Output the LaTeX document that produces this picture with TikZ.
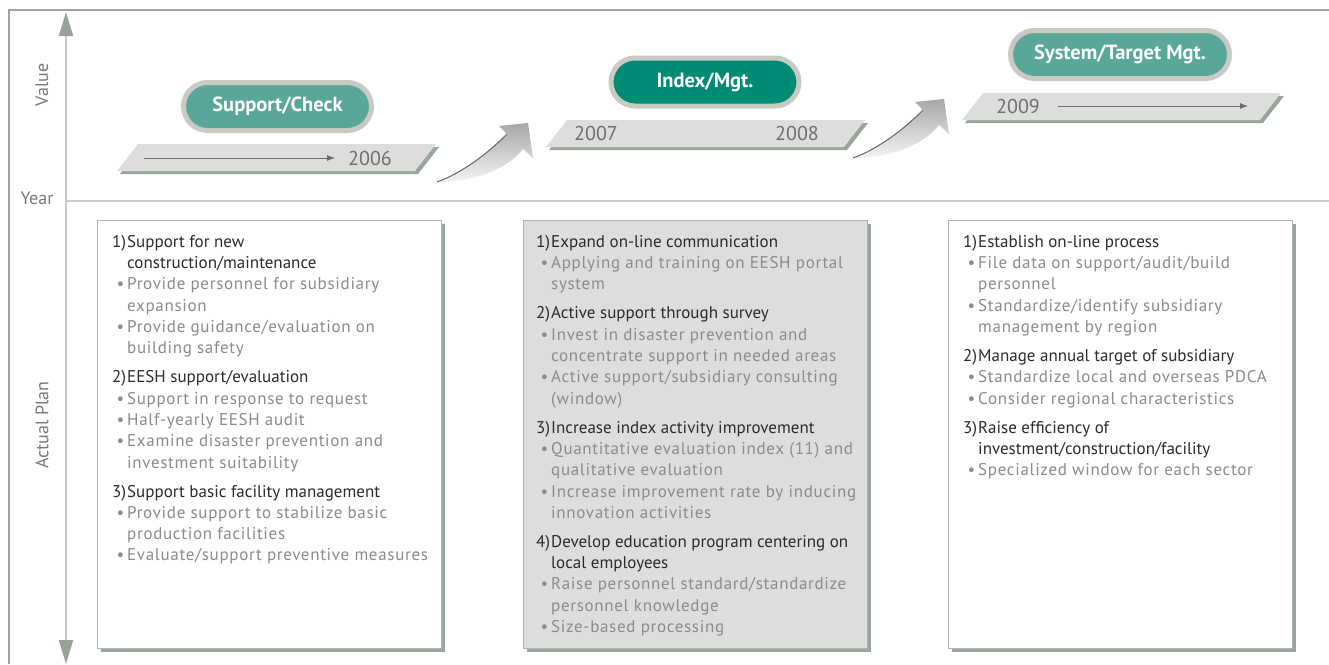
\documentclass[tikz,border=0pt]{standalone}
\usepackage{fontspec}
\setmainfont{PT Sans}
\newfontfamily\itemfont[LetterSpace=4]{PT Sans}
\usepackage{tikz}
\usetikzlibrary{arrows.meta,positioning,calc,shadows}
\definecolor{frameLine}{HTML}{9BA59C}
\definecolor{axisLine}{HTML}{C6CBC6}
\definecolor{axisTip}{HTML}{98A298}
\definecolor{labelGray}{HTML}{76787A}
\definecolor{pillRing}{HTML}{C9CAC4}
\definecolor{pillTeal}{HTML}{58A799}
\definecolor{pillDeep}{HTML}{008B74}
\definecolor{bandFill}{HTML}{DCDEDB}
\definecolor{bandShade}{HTML}{9AA59B}
\definecolor{yearText}{HTML}{6D6E71}
\definecolor{headText}{HTML}{2B2B2B}
\definecolor{itemText}{HTML}{898B8D}
\definecolor{boxLine}{HTML}{AEB4AF}

% plan list helpers: numbered heading, heading continuation, bullet, item continuation
\newcommand{\plhead}[2]{{\normalfont\color{headText}\makebox[15pt][l]{#1}#2}}
\newcommand{\plcont}[1]{{\normalfont\color{headText}\hspace*{15pt}#1}}
\newcommand{\plitem}{\makebox[15pt][r]{\textbullet\hspace{3pt}}}
\newcommand{\plnext}{\hspace*{15pt}}

% slanted year band with its shadow, given the top-left corner
\newcommand{\yearband}[2]{%
  \fill[bandShade] (#1+3,#2+3) -- ++(298,0) -- ++(-21,27) -- ++(-298,0) -- cycle;
  \fill[bandFill] (#1,#2) -- ++(298,0) -- ++(-21,27) -- ++(-298,0) -- cycle;
}

\tikzset{
  pill/.style={rounded corners=24pt, draw=pillRing, line width=5pt, fill=pillTeal,
    text=white, minimum height=48pt, minimum width=188pt, inner sep=0pt,
    font=\fontsize{20.5}{22}\selectfont\bfseries},
  yeartag/.style={text=yearText, inner sep=0pt, font=\fontsize{20}{22}\selectfont},
  sidelabel/.style={text=labelGray, inner sep=0pt, font=\fontsize{18}{20}\selectfont},
  yeararrow/.style={draw=yearText, line width=0.8pt, -{Latex[length=8pt,width=6pt]}},
  planbox/.style={draw=boxLine, line width=1.2pt, fill=white, anchor=north west,
    minimum width=344pt, minimum height=428pt,
    drop shadow={shadow xshift=3pt, shadow yshift=-3pt, fill=bandShade, opacity=1}},
  plantext/.style={anchor=north west, align=left, inner sep=0pt, text=itemText,
    font=\itemfont\fontsize{17}{21.3}\selectfont},
  rise/.pic={
    \shade[top color=gray!70, bottom color=gray!8]
      (0,0) .. controls (35,0) and (70,-12) .. (86,-33) -- (96,-24) -- (91,-59)
      -- (62,-56) -- (70,-48) .. controls (50,-28) and (25,-9) .. (0,0) -- cycle;
    \draw[gray!80!black, line width=1pt] (70,-48) .. controls (50,-28) and (25,-9) .. (0,0);
  },
}

\begin{document}
\begin{tikzpicture}[x=1pt,y=-1pt,>=Latex]
  \useasboundingbox (0,0) rectangle (1329,664);

  % frame, axes
  \draw[frameLine, line width=1.5pt] (9,664) -- (9,10) -- (1329,10);
  \draw[axisLine, line width=2pt] (66,201) -- (1329,201);
  \coordinate (axTop) at (66,12);
  \coordinate (axBot) at (66,664);
  \draw[axisLine, line width=2pt,
    {Triangle[length=24pt,width=14pt,color=axisTip]}-{Triangle[length=24pt,width=14pt,color=axisTip]}]
    (axTop) -- (axBot);
  \node[sidelabel, rotate=90] (lblValue) at (42,85) {Value};
  \node[sidelabel] (lblYear) at (37,198) {Year};
  \node[sidelabel, rotate=90] (lblPlan) at (42,425) {Actual Plan};

  % year bands
  \yearband{138}{144}
  \yearband{567}{120}
  \yearband{983}{93}
  \node[yeartag] (y06) at (370,158) {2006};
  \coordinate (a06) at (144,158);
  \draw[yeararrow] (a06) -- ([xshift=-13pt]y06.west);
  \node[yeartag] (y07) at (596,133) {2007};
  \node[yeartag] (y08) at (797,133) {2008};
  \node[yeartag] (y09) at (1018,106) {2009};
  \coordinate (a09) at (1248,106);
  \draw[yeararrow] ([xshift=18pt]y09.east) -- (a09);

  % rising arrows between stages
  \pic at (437,182) {rise};
  \pic at (853,158) {rise};

  % stage pills
  \node[pill] (chk) at (277.5,106.5) {Support/Check};
  \node[pill, fill=pillDeep] (idx) at (705,82) {Index/Mgt.};
  \node[pill, minimum width=219pt] (tgt) at (1120,54.5) {System/Target Mgt.};

  % plan boxes
  \node[planbox] (box1) at (97,220) {};
  \node[planbox, fill=bandFill] (box2) at (523,220) {};
  \node[planbox] (box3) at (948,220) {};

  \node[plantext] (txt1) at ([xshift=15pt,yshift=-15pt]box1.north west) {%
    \plhead{1)}{Support for new}\\
    \plcont{construction/maintenance}\\
    \plitem Provide personnel for subsidiary\\
    \plnext expansion\\
    \plitem Provide guidance/evaluation on\\
    \plnext building safety\\[7.7pt]
    \plhead{2)}{EESH support/evaluation}\\
    \plitem Support in response to request\\
    \plitem Half-yearly EESH audit\\
    \plitem Examine disaster prevention and\\
    \plnext investment suitability\\[7.7pt]
    \plhead{3)}{Support basic facility management}\\
    \plitem Provide support to stabilize basic\\
    \plnext production facilities\\
    \plitem Evaluate/support preventive measures};

  \node[plantext] (txt2) at ([xshift=13pt,yshift=-15pt]box2.north west) {%
    \plhead{1)}{Expand on-line communication}\\
    \plitem Applying and training on EESH portal\\
    \plnext system\\[7.7pt]
    \plhead{2)}{Active support through survey}\\
    \plitem Invest in disaster prevention and\\
    \plnext concentrate support in needed areas\\
    \plitem Active support/subsidiary consulting\\
    \plnext (window)\\[7.7pt]
    \plhead{3)}{Increase index activity improvement}\\
    \plitem Quantitative evaluation index (11) and\\
    \plnext qualitative evaluation\\
    \plitem Increase improvement rate by inducing\\
    \plnext innovation activities\\[7.7pt]
    \plhead{4)}{Develop education program centering on}\\
    \plcont{local employees}\\
    \plitem Raise personnel standard/standardize\\
    \plnext personnel knowledge\\
    \plitem Size-based processing};

  \node[plantext] (txt3) at ([xshift=15pt,yshift=-15pt]box3.north west) {%
    \plhead{1)}{Establish on-line process}\\
    \plitem File data on support/audit/build\\
    \plnext personnel\\
    \plitem Standardize/identify subsidiary\\
    \plnext management by region\\[7.7pt]
    \plhead{2)}{Manage annual target of subsidiary}\\
    \plitem Standardize local and overseas PDCA\\
    \plitem Consider regional characteristics\\[7.7pt]
    \plhead{3)}{Raise efficiency of}\\
    \plcont{investment/construction/facility}\\
    \plitem Specialized window for each sector};
\end{tikzpicture}
\end{document}
